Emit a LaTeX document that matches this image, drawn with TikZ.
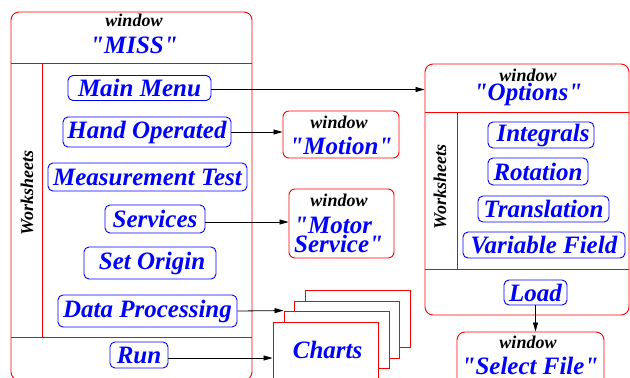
\documentclass[tikz,border=0pt]{standalone}
\usepackage{fontspec}
\newfontfamily\tfont{Liberation Serif}
\usetikzlibrary{arrows.meta}
\begin{document}
\begin{tikzpicture}[x=1pt,y=-1pt,
 win/.style={draw=red, line width=0.9pt, rounded corners=8pt, inner sep=0pt},
 smallwin/.style={win, rounded corners=6pt},
 sep/.style={draw=red, line width=0.9pt},
 btn/.style={draw=blue, line width=0.9pt, rounded corners=5pt, text=blue, font=\tfont\fontsize{25}{28}\selectfont\bfseries\itshape, inner sep=0pt},
 wlab/.style={font=\tfont\fontsize{18}{20}\selectfont\bfseries\itshape, inner sep=0pt},
 wname/.style={text=blue, font=\tfont\fontsize{25}{28}\selectfont\bfseries\itshape, inner sep=0pt},
 page/.style={draw=red, fill=white, line width=0.9pt, inner sep=0pt, minimum width=105pt, minimum height=57pt},
 arr/.style={-{Triangle[length=9pt,width=5pt]}, line width=0.8pt}]
\useasboundingbox (0,0) rectangle (630,378);
\begin{scope}
\clip (0,0) rectangle (630,378);
% ---- MISS window
\node[win, minimum width=241pt, minimum height=368pt] (miss) at (131.5,196) {};
\draw[sep] (11,63) -- (252,63);
\draw[sep] (42,63) -- (42,337);
\draw[sep] (11,337) -- (252,337);
\node[wlab] (misswin) at (134,20) {window};
\node[wname] (missname) at (134,45) {"MISS"};
\node[wlab, rotate=90] (missws) at (27,193) {Worksheets};
\node[btn, minimum width=143pt, minimum height=25pt] (mainmenu) at (139.5,88) {Main Menu};
\node[btn, minimum width=168pt, minimum height=30pt] (hand) at (147,132) {Hand Operated};
\node[btn, minimum width=199pt, minimum height=28pt] (meas) at (147.5,177) {Measurement Test};
\node[btn, minimum width=100pt, minimum height=28pt] (serv) at (155,219) {Services};
\node[btn, minimum width=132pt, minimum height=32pt] (origin) at (150,263) {\,Set Origin};
\node[btn, minimum width=179pt, minimum height=32pt] (data) at (147.5,311) {Data Processing};
\node[btn, minimum width=58pt, minimum height=26pt] (run) at (139,355) {Run};
% ---- Motion window
\node[smallwin, minimum width=116pt, minimum height=47pt] (motion) at (341,134.5) {};
\node[wlab] (motionwin) at (339,122) {window};
\node[wname] (motionname) at (341,146) {"Motion"};
% ---- Motor Service window
\node[smallwin, minimum width=105pt, minimum height=69pt] (motor) at (341.5,223.5) {};
\node[wlab] (motorwin) at (339,200) {window};
\node[wname, anchor=west, align=left, font=\tfont\fontsize{25}{19}\selectfont\bfseries\itshape] (motorname) at (294,235) {"Motor\\Service"};
% ---- Charts stack
\node[page] (page1) at (357.5,318.5) {};
\node[page] (page2) at (346.5,329.5) {};
\node[page] (page3) at (336.5,339.5) {};
\node[page, text=blue, font=\tfont\fontsize{25}{28}\selectfont\bfseries\itshape] (charts) at (325.5,350.5) {\raisebox{1.5pt}{\,Charts}};
% ---- Options window
\node[win, minimum width=204pt, minimum height=251pt] (options) at (527,189.5) {};
\draw[sep] (425,112) -- (629,112);
\draw[sep] (457,112) -- (457,269);
\draw[sep] (425,269) -- (629,269);
\node[wlab] (optwin) at (528,75) {window};
\node[wname] (optname) at (528,94) {"Options"};
\node[wlab, rotate=90] (optws) at (440,187) {Worksheets};
\node[btn, minimum width=106pt, minimum height=26pt] (integ) at (541,135) {\,Integrals};
\node[btn, minimum width=100pt, minimum height=27pt] (rot) at (538,171.5) {Rotation};
\node[btn, minimum width=131pt, minimum height=26pt] (trans) at (543.5,209) {Translation};
\node[btn, minimum width=162pt, minimum height=26pt] (varf) at (544,245) {Variable Field};
\node[btn, minimum width=63pt, minimum height=25pt] (load) at (535.5,292.5) {Load};
% ---- Select File window
\node[win, minimum width=147pt, minimum height=60pt] (selfile) at (530.5,362) {};
\node[wlab] (selwin) at (528,342) {window};
\node[wname] (selname) at (530,366) {"Select File"};
% ---- connectors
\draw[arr] ([yshift=-1.5pt]mainmenu.east) -- ([yshift=-1.5pt]mainmenu.east -| options.west);
\draw[arr] (hand.east) -- (hand.east -| motion.west);
\draw[arr] ([yshift=-3pt]serv.east) -- ([yshift=-3pt]serv.east -| motor.west);
\draw[arr] (data.east) -- (page3.north west);
\draw[arr] ([yshift=-3pt]run.east) -- ([yshift=-3pt]run.east -| charts.west);
\draw[arr] (load.south) -- (load.south |- selfile.north);
\end{scope}
\end{tikzpicture}
\end{document}
